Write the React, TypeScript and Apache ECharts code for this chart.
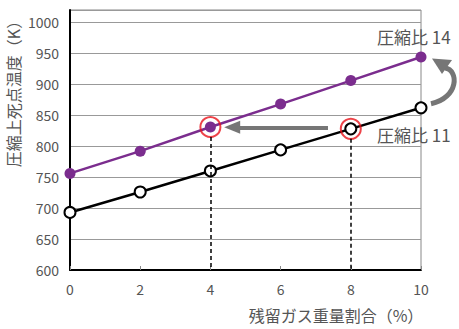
import React, { useEffect, useRef } from "react";
import * as echarts from "echarts";

const xValues = [0, 2, 4, 6, 8, 10];
const cr14 = [756, 792, 831, 868, 906, 944];
const cr11 = [693, 726, 760, 794, 828, 862];
const seriesNames = ["圧縮比 14", "圧縮比 11"];
const highlight14 = 2;
const highlight11 = 4;
const arrowFrom = [7.35, 830.5];
const arrowTo = [4.62, 830.5];
const yName = "圧縮上死点温度（K）";
const xName = "残留ガス重量割合（%）";

const FONT = "'Noto Sans CJK JP', 'Noto Sans', sans-serif";
const TXT = "#555";

export default function App() {
  const ref = useRef<HTMLDivElement>(null);
  useEffect(() => {
    document.body.style.margin = "0";
    const chart = echarts.init(ref.current!, undefined, { renderer: "svg" });
    const option: any = {
      animation: false,
      grid: {
        left: 70,
        right: 38,
        top: 10,
        bottom: 59,
        show: true,
        borderColor: "#888",
        borderWidth: 1,
      },
      xAxis: {
        type: "value",
        min: 0,
        max: 10,
        interval: 2,
        axisLine: { lineStyle: { color: "#000", width: 2 } },
        axisTick: { inside: true, length: 4, lineStyle: { color: "#888" } },
        splitLine: { show: false },
        axisLabel: { color: TXT, fontSize: 14, margin: 12, fontFamily: FONT },
      },
      yAxis: {
        type: "value",
        min: 600,
        max: 1020,
        interval: 50,
        axisLine: { show: true, lineStyle: { color: "#000", width: 2 } },
        axisTick: { show: false },
        splitLine: { lineStyle: { color: "#999", width: 1 } },
        axisLabel: {
          color: TXT,
          fontSize: 14,
          margin: 11,
          fontFamily: FONT,
          showMaxLabel: false,
          formatter: (v: number) => String(v),
        },
      },
      series: [
        {
          name: seriesNames[0],
          type: "line",
          data: xValues.map((x, i) => [x, cr14[i]]),
          symbol: "circle",
          symbolSize: 11,
          lineStyle: { color: "#7b2d8e", width: 2.5 },
          itemStyle: { color: "#7b2d8e", borderWidth: 0 },
          z: 3,
          markLine: {
            silent: true,
            symbol: ["none", "triangle"],
            symbolSize: [13, 16],
            label: { show: false },
            lineStyle: { color: "#767676", width: 4, type: "solid" },
            data: [[{ coord: arrowFrom }, { coord: arrowTo }]],
          },
        },
        {
          name: seriesNames[1],
          type: "line",
          data: xValues.map((x, i) => [x, cr11[i]]),
          symbol: "circle",
          symbolSize: 11,
          lineStyle: { color: "#000", width: 2.5 },
          itemStyle: { color: "#fff", borderColor: "#000", borderWidth: 2 },
          z: 3,
          markLine: {
            silent: true,
            symbol: "none",
            label: { show: false },
            lineStyle: { color: "#000", width: 1.5, type: [4, 3] },
            data: [
              [{ coord: [xValues[highlight14], cr14[highlight14] - 16] }, { coord: [xValues[highlight14], 600] }],
              [{ coord: [xValues[highlight11], cr11[highlight11] - 16] }, { coord: [xValues[highlight11], 600] }],
            ],
          },
        },
        {
          type: "scatter",
          silent: true,
          symbol: "circle",
          symbolSize: 20,
          itemStyle: { color: "transparent", borderColor: "#e8141c", borderWidth: 2 },
          data: [
            [xValues[highlight14], cr14[highlight14]],
            [xValues[highlight11], cr11[highlight11]],
          ],
          z: 4,
        },
      ],
    };
    chart.setOption(option);
    const last = xValues.length - 1;
    const p14 = chart.convertToPixel({ gridIndex: 0 }, [xValues[last], cr14[last]]);
    const p11 = chart.convertToPixel({ gridIndex: 0 }, [xValues[last], cr11[last]]);
    chart.setOption({
      graphic: [
        {
          type: "text",
          x: 13,
          y: 90,
          rotation: Math.PI / 2,
          style: {
            text: yName,
            fill: TXT,
            font: `16px ${FONT}`,
            align: "center",
            verticalAlign: "middle",
          },
        },
        {
          type: "text",
          x: 336,
          y: 315,
          style: {
            text: xName,
            fill: TXT,
            font: `16px ${FONT}`,
            align: "center",
            verticalAlign: "middle",
          },
        },
        {
          type: "text",
          x: p14[0] - 44,
          y: p14[1] - 21,
          style: { text: seriesNames[0], fill: TXT, font: `17px ${FONT}`, align: "left", verticalAlign: "middle" },
        },
        {
          type: "text",
          x: p11[0] - 44,
          y: p11[1] + 27,
          style: { text: seriesNames[1], fill: TXT, font: `17px ${FONT}`, align: "left", verticalAlign: "middle" },
        },
        {
          type: "bezierCurve",
          shape: {
            x1: p11[0] + 10,
            y1: p11[1] - 4,
            cpx1: p11[0] + 38,
            cpy1: p11[1] - 10,
            cpx2: p11[0] + 38,
            cpy2: p11[1] - 38,
            x2: p14[0] + 24,
            y2: p14[1] + 11,
          },
          style: { stroke: "#767676", lineWidth: 5, fill: "none" },
        },
        {
          type: "polygon",
          shape: {
            points: [
              [p14[0] + 11, p14[1] + 1.5],
              [p14[0] + 31, p14[1] + 3],
              [p14[0] + 21, p14[1] + 17],
            ],
          },
          style: { fill: "#767676" },
        },
      ],
    });
    return () => chart.dispose();
  }, []);
  return <div ref={ref} style={{ width: 459, height: 329, position: "absolute", left: 0, top: 0 }} />;
}
